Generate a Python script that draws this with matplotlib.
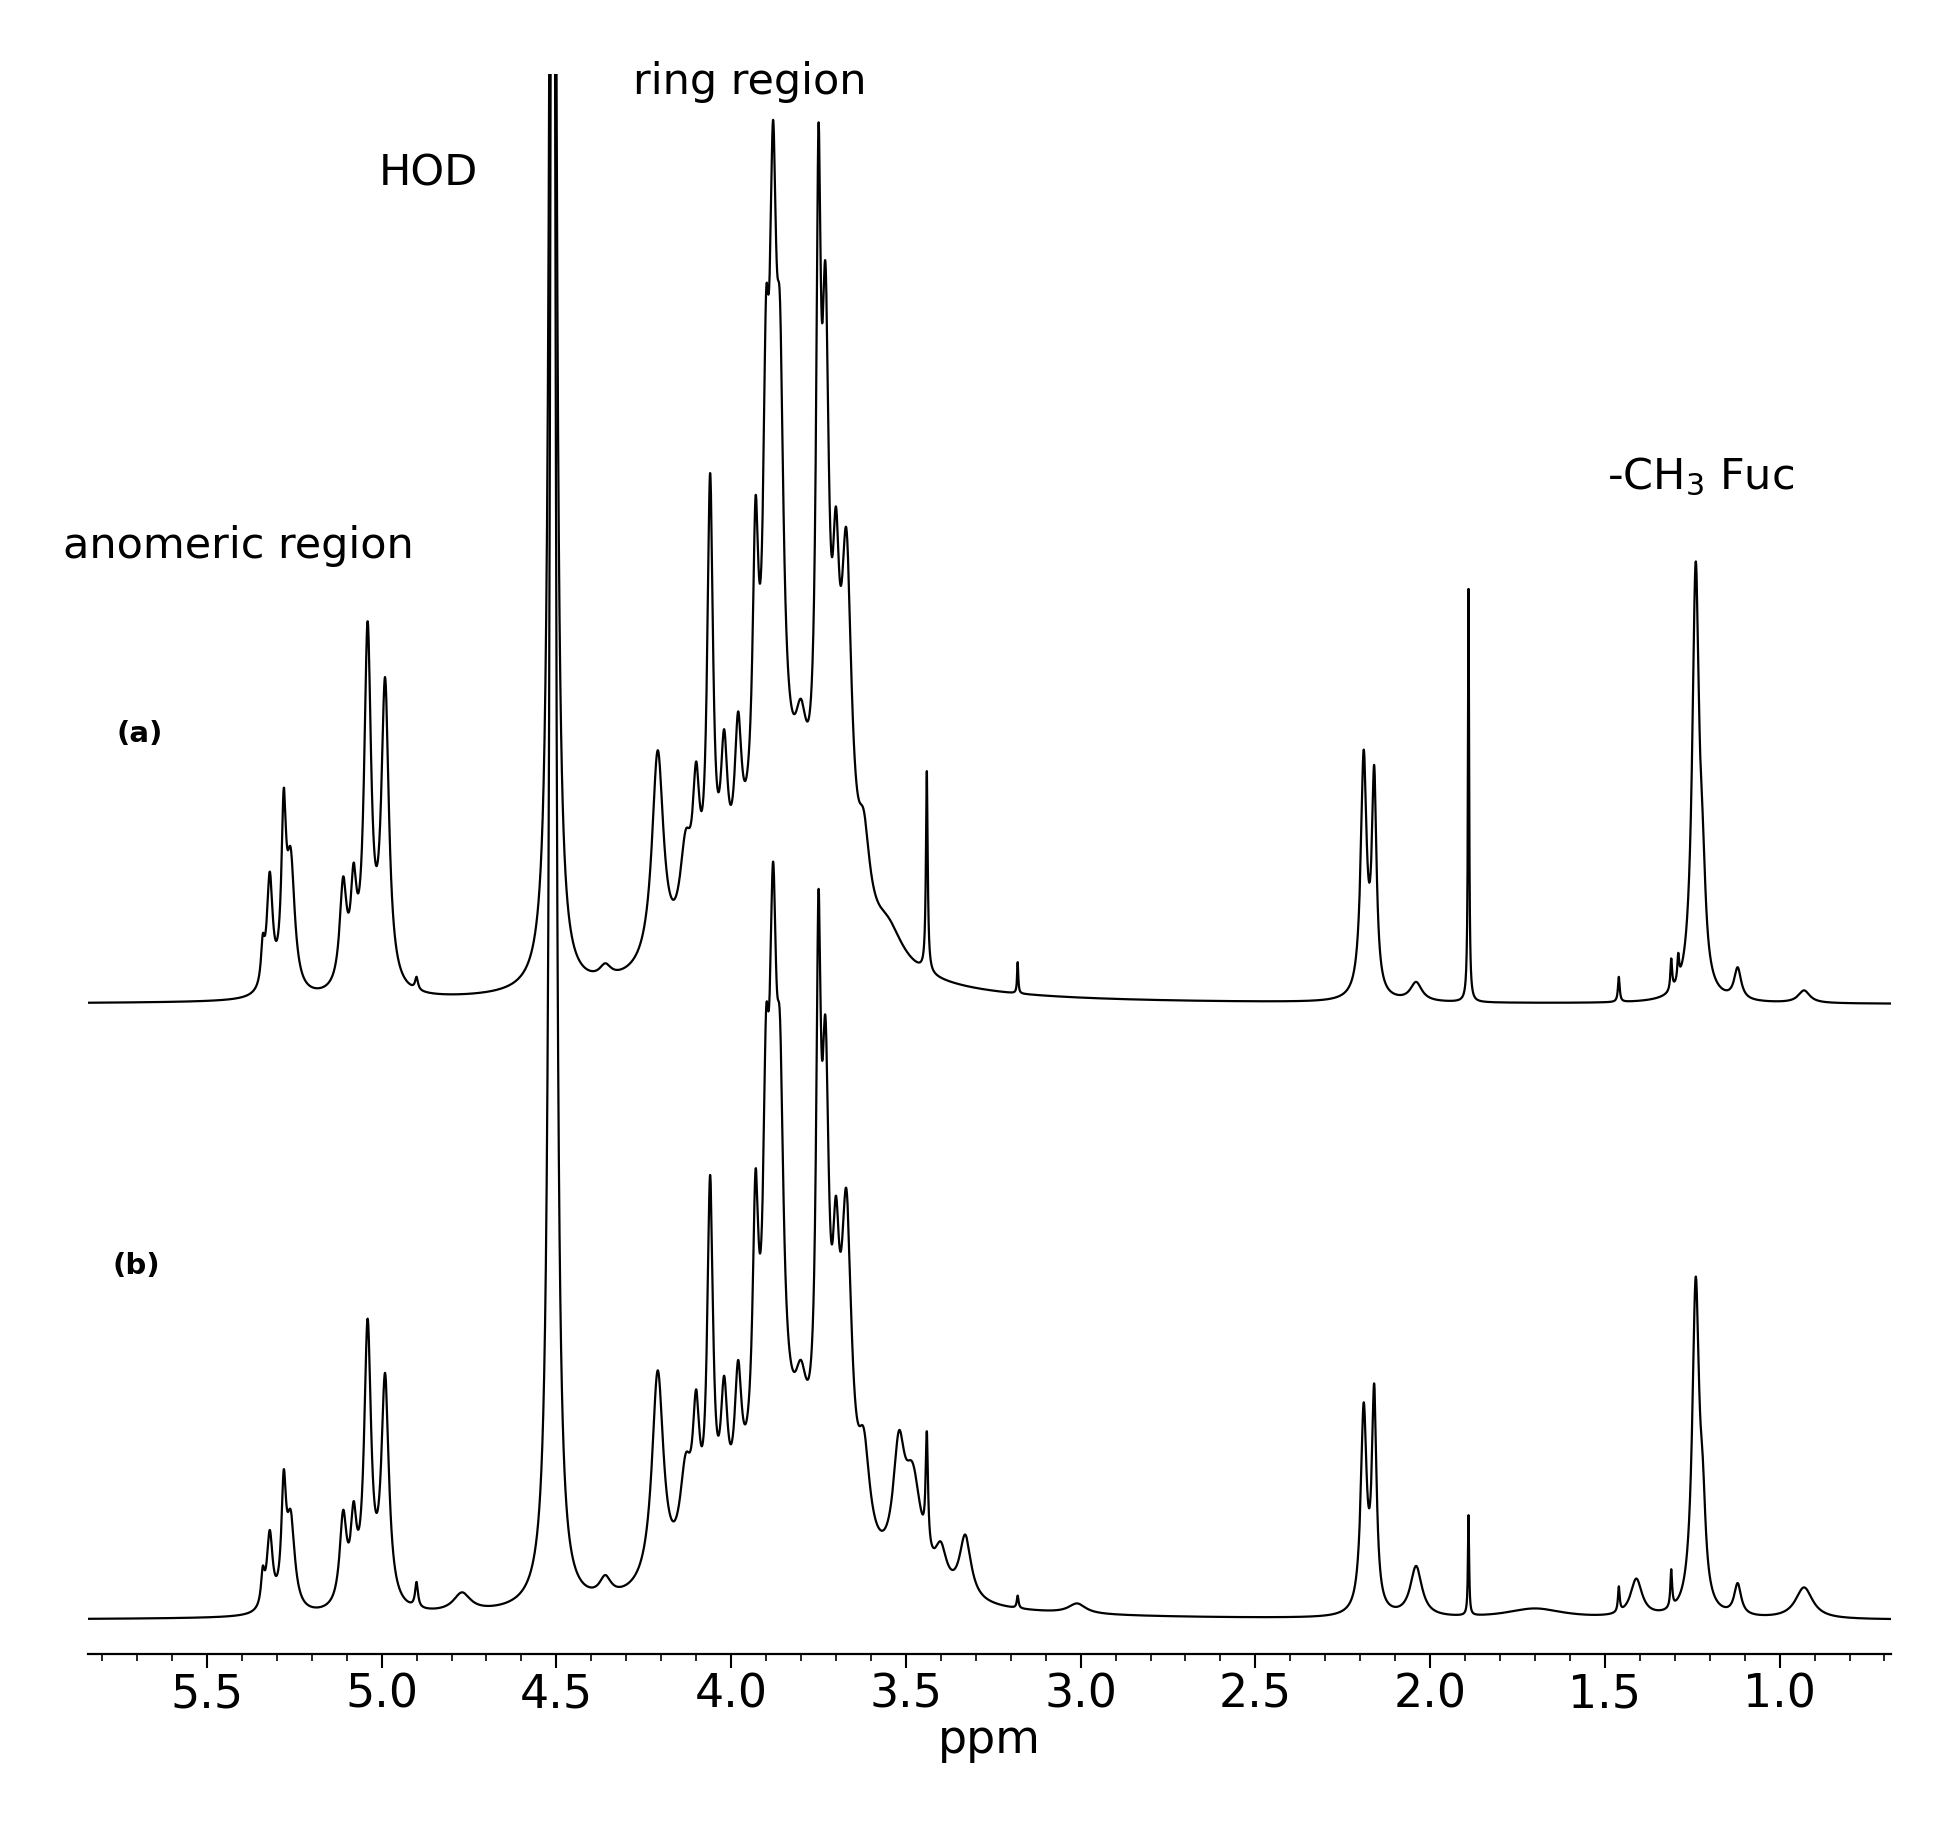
import numpy as np
import matplotlib
matplotlib.use("Agg")
import matplotlib.pyplot as plt

# peak tables: centre (ppm), height, half width (ppm)
a_centers = [5.34, 5.32, 5.28, 5.26, 5.11, 5.08, 5.04, 4.99, 4.90, 4.51, 4.36, 4.21, 4.13, 4.10, 4.06, 4.02, 3.98, 3.93, 3.90, 3.88, 3.86, 3.85, 3.80, 3.75, 3.73, 3.70, 3.67, 3.62, 3.55, 3.44, 3.18, 2.19, 2.16, 2.04, 1.89, 1.46, 1.31, 1.29, 1.24, 1.22, 1.12, 0.93]
a_heights = [30, 90, 130, 100, 80, 70, 280, 240, 10, 2000, 10, 170, 70, 100, 340, 110, 110, 220, 270, 420, 270, 140, 60, 460, 380, 180, 260, 60, 25, 160, 25, 190, 170, 15, 330, 20, 25, 20, 340, 60, 25, 10]
a_widths = [0.006, 0.01, 0.008, 0.014, 0.012, 0.01, 0.012, 0.013, 0.005, 0.008, 0.02, 0.02, 0.02, 0.012, 0.01, 0.012, 0.012, 0.01, 0.01, 0.012, 0.012, 0.15, 0.02, 0.008, 0.012, 0.012, 0.018, 0.02, 0.05, 0.003, 0.002, 0.01, 0.008, 0.02, 0.002, 0.003, 0.003, 0.003, 0.012, 0.01, 0.012, 0.02]

b_centers = [5.34, 5.32, 5.28, 5.26, 5.11, 5.08, 5.04, 4.99, 4.90, 4.77, 4.51, 4.36, 4.21, 4.13, 4.10, 4.06, 4.02, 3.98, 3.93, 3.90, 3.88, 3.86, 3.85, 3.80, 3.75, 3.73, 3.70, 3.67, 3.62, 3.52, 3.48, 3.44, 3.40, 3.33, 3.18, 3.01, 2.19, 2.16, 2.04, 1.89, 1.70, 1.46, 1.41, 1.31, 1.24, 1.22, 1.12, 0.93]
b_heights = [25, 60, 90, 70, 70, 60, 220, 180, 20, 15, 2000, 15, 170, 70, 100, 280, 100, 100, 200, 230, 360, 230, 120, 50, 380, 300, 150, 240, 70, 90, 80, 90, 30, 50, 10, 8, 160, 170, 40, 80, 8, 20, 30, 30, 260, 60, 25, 25]
b_widths = [0.006, 0.01, 0.008, 0.014, 0.012, 0.01, 0.012, 0.013, 0.005, 0.03, 0.008, 0.02, 0.02, 0.02, 0.012, 0.01, 0.012, 0.012, 0.01, 0.01, 0.012, 0.012, 0.15, 0.02, 0.008, 0.012, 0.012, 0.018, 0.02, 0.02, 0.03, 0.004, 0.02, 0.02, 0.003, 0.03, 0.01, 0.008, 0.02, 0.002, 0.1, 0.003, 0.02, 0.003, 0.012, 0.01, 0.012, 0.03]

a_offset = 518
b_offset = 27

x = np.linspace(0.68, 5.84, 20000)

def spectrum(cs, hs, ws):
    y = np.zeros_like(x)
    for c, h, w in zip(cs, hs, ws):
        y += h * w**2 / ((x - c)**2 + w**2)
    return y

fig = plt.figure(figsize=(19.56, 18.42), dpi=100)
ax = fig.add_axes([0.045, 0.102, 0.922, 0.858])
ax.plot(x, spectrum(a_centers, a_heights, a_widths) + a_offset, color="black", lw=1.6)
ax.plot(x, spectrum(b_centers, b_heights, b_widths) + b_offset, color="black", lw=1.6)
ax.set_xlim(5.84, 0.68)
ax.set_ylim(0, 1260)
for s in ["left", "right", "top"]:
    ax.spines[s].set_visible(False)
ax.spines["bottom"].set_linewidth(1.6)
ax.set_yticks([])
ax.set_xticks([5.5, 5.0, 4.5, 4.0, 3.5, 3.0, 2.5, 2.0, 1.5, 1.0])
ax.set_xticklabels(["5.5", "5.0", "4.5", "4.0", "3.5", "3.0", "2.5", "2.0", "1.5", "1.0"])
ax.set_xticks(np.arange(0.7, 5.81, 0.1), minor=True)
ax.tick_params(axis="x", which="major", labelsize=33, length=10, width=1.5)
ax.tick_params(axis="x", which="minor", length=5, width=1.2)
ax.set_xlabel("ppm", fontsize=33, labelpad=0)

fs = 31
fig.text(50/1560, 1-445/1470, "anomeric region", fontsize=fs)
fig.text(302/1560, 1-148/1470, "HOD", fontsize=fs)
fig.text(505/1560, 1-75/1470, "ring region", fontsize=fs)
fig.text(1282/1560, 1-390/1470, "-CH$_3$ Fuc", fontsize=fs)
fig.text(93/1560, 1-592/1470, "(a)", fontsize=21, fontweight="bold")
fig.text(90/1560, 1-1017/1470, "(b)", fontsize=21, fontweight="bold")

fig.savefig("out.png", dpi=100)
